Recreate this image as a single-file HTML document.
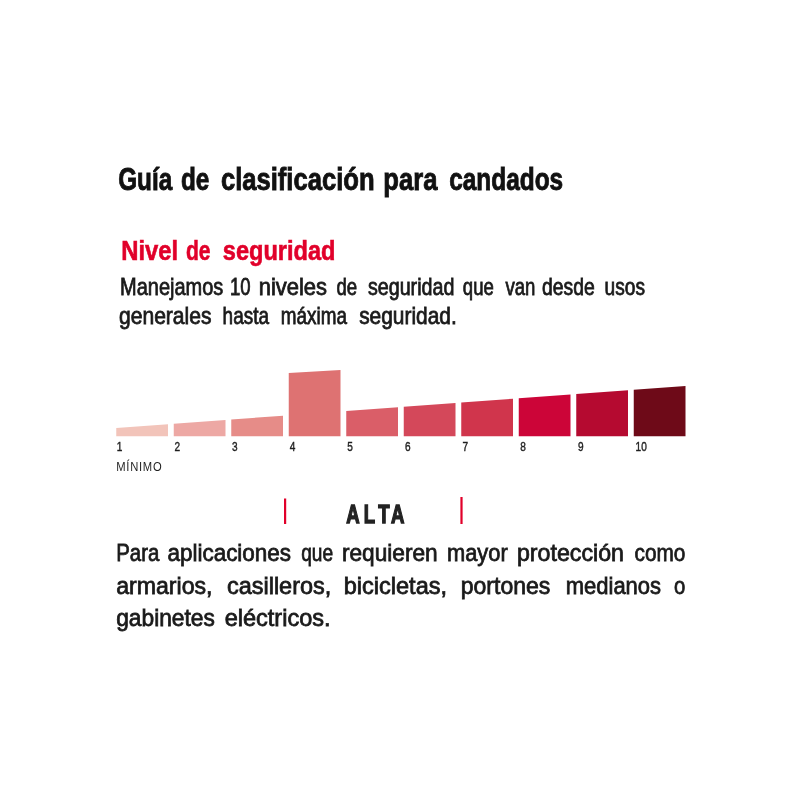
<!DOCTYPE html>
<html lang="es">
<head>
<meta charset="utf-8">
<title>Guía de clasificación para candados</title>
<style>
html,body{margin:0;padding:0;background:#fff;}
body{width:800px;height:800px;overflow:hidden;}
svg{display:block;font-family:"Liberation Sans",sans-serif;}
.b{font-weight:bold;}
</style>
</head>
<body>
<svg width="800" height="800" viewBox="0 0 800 800">
<rect width="800" height="800" fill="#ffffff"/>
<!--TB-->
<g font-size="32" fill="#111111" stroke="#111111" stroke-width="0.9" font-weight="bold">
<text x="118.14" y="189.6" textLength="54.05" lengthAdjust="spacingAndGlyphs">Guía</text>
<text x="180.98" y="189.6" textLength="28.38" lengthAdjust="spacingAndGlyphs">de</text>
<text x="220.90" y="189.6" textLength="153.64" lengthAdjust="spacingAndGlyphs">clasificación</text>
<text x="383.35" y="189.6" textLength="54.04" lengthAdjust="spacingAndGlyphs">para</text>
<text x="449.19" y="189.6" textLength="113.97" lengthAdjust="spacingAndGlyphs">candados</text>
</g>
<g font-size="27.8" fill="#e1002a" stroke="#e1002a" stroke-width="0.6" font-weight="bold">
<text x="121.19" y="260.0" textLength="56.99" lengthAdjust="spacingAndGlyphs">Nivel</text>
<text x="185.97" y="260.0" textLength="24.65" lengthAdjust="spacingAndGlyphs">de</text>
<text x="222.80" y="260.0" textLength="112.73" lengthAdjust="spacingAndGlyphs">seguridad</text>
</g>
<g font-size="23.8" fill="#1a1a1a" stroke="#1a1a1a" stroke-width="0.8">
<text x="120.06" y="294.8" textLength="103.20" lengthAdjust="spacingAndGlyphs">Manejamos</text>
<text x="230.00" y="294.8" textLength="20.65" lengthAdjust="spacingAndGlyphs">10</text>
<text x="258.73" y="294.8" textLength="68.28" lengthAdjust="spacingAndGlyphs">niveles</text>
<text x="336.38" y="294.8" textLength="20.65" lengthAdjust="spacingAndGlyphs">de</text>
<text x="367.90" y="294.8" textLength="86.47" lengthAdjust="spacingAndGlyphs">seguridad</text>
<text x="462.84" y="294.8" textLength="30.97" lengthAdjust="spacingAndGlyphs">que</text>
<text x="505.52" y="294.8" textLength="29.93" lengthAdjust="spacingAndGlyphs">van</text>
<text x="542.09" y="294.8" textLength="52.70" lengthAdjust="spacingAndGlyphs">desde</text>
<text x="604.60" y="294.8" textLength="40.42" lengthAdjust="spacingAndGlyphs">usos</text>
</g>
<g font-size="23.8" fill="#1a1a1a" stroke="#1a1a1a" stroke-width="0.8">
<text x="119.02" y="324.4" textLength="92.50" lengthAdjust="spacingAndGlyphs">generales</text>
<text x="222.60" y="324.4" textLength="46.39" lengthAdjust="spacingAndGlyphs">hasta</text>
<text x="280.86" y="324.4" textLength="66.14" lengthAdjust="spacingAndGlyphs">máxima</text>
<text x="359.15" y="324.4" textLength="97.62" lengthAdjust="spacingAndGlyphs">seguridad.</text>
</g>
<g font-size="24.5" fill="#1a1a1a" stroke="#1a1a1a" stroke-width="0.8">
<text x="116.24" y="561.25" textLength="43.05" lengthAdjust="spacingAndGlyphs">Para</text>
<text x="167.48" y="561.25" textLength="123.60" lengthAdjust="spacingAndGlyphs">aplicaciones</text>
<text x="301.16" y="561.25" textLength="31.88" lengthAdjust="spacingAndGlyphs">que</text>
<text x="341.98" y="561.25" textLength="95.70" lengthAdjust="spacingAndGlyphs">requieren</text>
<text x="447.01" y="561.25" textLength="60.73" lengthAdjust="spacingAndGlyphs">mayor</text>
<text x="516.95" y="561.25" textLength="106.99" lengthAdjust="spacingAndGlyphs">protección</text>
<text x="634.55" y="561.25" textLength="50.83" lengthAdjust="spacingAndGlyphs">como</text>
</g>
<g font-size="24.5" fill="#1a1a1a" stroke="#1a1a1a" stroke-width="0.8">
<text x="116.21" y="593.75" textLength="96.35" lengthAdjust="spacingAndGlyphs">armarios,</text>
<text x="226.94" y="593.75" textLength="104.39" lengthAdjust="spacingAndGlyphs">casilleros,</text>
<text x="343.75" y="593.75" textLength="103.27" lengthAdjust="spacingAndGlyphs">bicicletas,</text>
<text x="460.71" y="593.75" textLength="89.63" lengthAdjust="spacingAndGlyphs">portones</text>
<text x="565.75" y="593.75" textLength="95.32" lengthAdjust="spacingAndGlyphs">medianos</text>
<text x="674.07" y="593.75" textLength="11.30" lengthAdjust="spacingAndGlyphs">o</text>
</g>
<g font-size="24.5" fill="#1a1a1a" stroke="#1a1a1a" stroke-width="0.8">
<text x="116.22" y="626.25" textLength="98.61" lengthAdjust="spacingAndGlyphs">gabinetes</text>
<text x="224.70" y="626.25" textLength="105.87" lengthAdjust="spacingAndGlyphs">eléctricos.</text>
</g>
<!--/TB-->

<g id="bars">
<polygon points="116.25,428 168,424.2 168,436.2 116.25,436.2" fill="#f2c4ba"/>
<polygon points="173.75,423.8 225.5,419.9 225.5,436.2 173.75,436.2" fill="#eda8a4"/>
<polygon points="231.25,419.5 283,415.7 283,436.2 231.25,436.2" fill="#e68c88"/>
<polygon points="288.75,373 340.5,370 340.5,436.2 288.75,436.2" fill="#de7272"/>
<polygon points="346.25,411 398,407.2 398,436.2 346.25,436.2" fill="#da5e68"/>
<polygon points="403.75,406.8 455.5,403 455.5,436.2 403.75,436.2" fill="#d4485a"/>
<polygon points="461.25,402.5 513,398.7 513,436.2 461.25,436.2" fill="#d0354c"/>
<polygon points="518.75,398.3 570.5,394.5 570.5,436.2 518.75,436.2" fill="#cc0538"/>
<polygon points="576.25,394 628,390.2 628,436.2 576.25,436.2" fill="#b50a30"/>
<polygon points="633.75,389.8 685.5,386 685.5,436.2 633.75,436.2" fill="#6e0a18"/>
</g>
<g font-size="12" fill="#1f1f1f" stroke="#1f1f1f" stroke-width="0.4">
<text x="116.8" y="451.0" textLength="5.61" lengthAdjust="spacingAndGlyphs">1</text>
<text x="174.4" y="451.0" textLength="5.61" lengthAdjust="spacingAndGlyphs">2</text>
<text x="232.0" y="451.0" textLength="5.61" lengthAdjust="spacingAndGlyphs">3</text>
<text x="289.8" y="451.0" textLength="5.61" lengthAdjust="spacingAndGlyphs">4</text>
<text x="347.2" y="451.0" textLength="5.61" lengthAdjust="spacingAndGlyphs">5</text>
<text x="404.9" y="451.0" textLength="5.61" lengthAdjust="spacingAndGlyphs">6</text>
<text x="462.5" y="451.0" textLength="5.61" lengthAdjust="spacingAndGlyphs">7</text>
<text x="520.2" y="451.0" textLength="5.61" lengthAdjust="spacingAndGlyphs">8</text>
<text x="578.0" y="451.0" textLength="5.61" lengthAdjust="spacingAndGlyphs">9</text>
<text x="635.6" y="451.0" textLength="11.21" lengthAdjust="spacingAndGlyphs">10</text>
<text x="116.2" y="470.8" font-size="12.3" stroke-width="0" style="letter-spacing:0.8px" textLength="46.2" lengthAdjust="spacingAndGlyphs">MÍNIMO</text>
</g>
<rect x="284" y="498.5" width="2.2" height="25.5" fill="#e1002a"/>
<rect x="460.4" y="497" width="2.2" height="27" fill="#e1002a"/>
<g transform="translate(0,523.0) scale(0.72,1)"><text class="b" font-size="25.8" fill="#222" stroke="#222" stroke-width="1.4" y="0" x="481.0 505.1 525.3 543.2">ALTA</text></g>
</svg>
</body>
</html>
